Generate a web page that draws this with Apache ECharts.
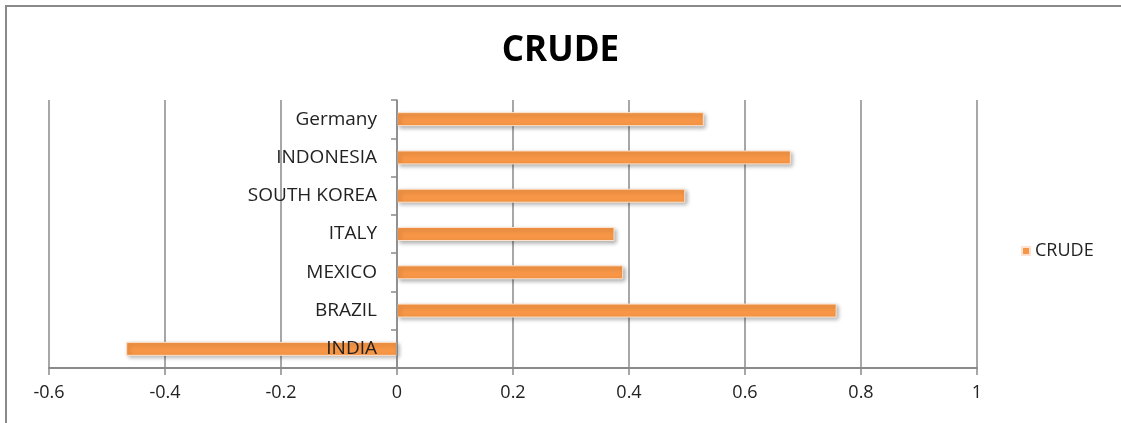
<!DOCTYPE html>
<html>
<head>
<meta charset="utf-8">
<script src="https://cdn.jsdelivr.net/npm/echarts@6/dist/echarts.min.js"></script>
<style>
  html, body { margin: 0; padding: 0; background: #fff; }
  #main { width: 1121px; height: 423px; }
</style>
</head>
<body>
<div id="main"></div>
<script>
// 数据
var countries = ['INDIA', 'BRAZIL', 'MEXICO', 'ITALY', 'SOUTH KOREA', 'INDONESIA', 'Germany'];
var crude = [-0.467, 0.758, 0.39, 0.375, 0.497, 0.679, 0.529];
var xTicks = [-0.6, -0.4, -0.2, 0, 0.2, 0.4, 0.6, 0.8, 1];

var chart = echarts.init(document.getElementById('main'));

var option = {
  animation: false,
  color: ['#f79646'],
  title: {
    text: 'CRUDE',
    left: 'center',
    top: 29,
    textStyle: {
      fontFamily: 'Open Sans',
      fontWeight: 'bold',
      fontSize: 35,
      color: '#000'
    }
  },
  legend: {
    data: ['CRUDE'],
    orient: 'vertical',
    left: 1016,
    top: 237,
    icon: 'rect',
    itemWidth: 8,
    itemHeight: 8,
    textStyle: {
      fontFamily: 'Open Sans',
      fontSize: 18,
      color: '#222'
    }
  },
  grid: {
    left: 49,
    right: 144,
    top: 100,
    bottom: 55,
    containLabel: false,
    outerBoundsMode: 'none'
  },
  xAxis: {
    type: 'value',
    min: -0.6,
    max: 1,
    interval: 0.2,
    axisLine: {
      show: true,
      lineStyle: { color: '#8a8a8a', width: 2 }
    },
    axisTick: {
      show: true,
      length: 7,
      lineStyle: { color: '#8a8a8a', width: 1.5 }
    },
    axisLabel: {
      margin: 16,
      fontFamily: 'Open Sans',
      fontSize: 18,
      color: '#222',
      formatter: function (v) {
        var r = Math.round(v * 10) / 10;
        return xTicks.indexOf(r) >= 0 ? String(r) : '';
      }
    },
    splitLine: {
      show: true,
      lineStyle: { color: '#8a8a8a', width: 1.5 }
    }
  },
  yAxis: {
    type: 'category',
    data: countries,
    z: 5,
    // 轴放在 0 处，标签跟着走
    offset: -348,
    axisLine: {
      show: true,
      onZero: false,
      lineStyle: { color: '#8a8a8a', width: 1.5 }
    },
    axisTick: {
      show: true,
      length: 6,
      lineStyle: { color: '#8a8a8a', width: 1.5 }
    },
    axisLabel: {
      margin: 20,
      fontFamily: 'Open Sans',
      fontSize: 19,
      color: '#222'
    },
    splitLine: { show: false }
  },
  series: [{
    name: 'CRUDE',
    type: 'bar',
    barWidth: 14,
    data: crude,
    itemStyle: {
      color: '#f79646',
      borderColor: '#fde3cf',
      borderWidth: 1,
      shadowColor: 'rgba(0,0,0,0.3)',
      shadowBlur: 4,
      shadowOffsetX: 2,
      shadowOffsetY: 2
    }
  }],
  graphic: [{
    type: 'polyline',
    shape: { points: [[6, 423], [6, 6], [1121, 6]] },
    style: { stroke: '#8a8a8a', lineWidth: 2, fill: null }
  }]
};

chart.setOption(option);
</script>
</body>
</html>
